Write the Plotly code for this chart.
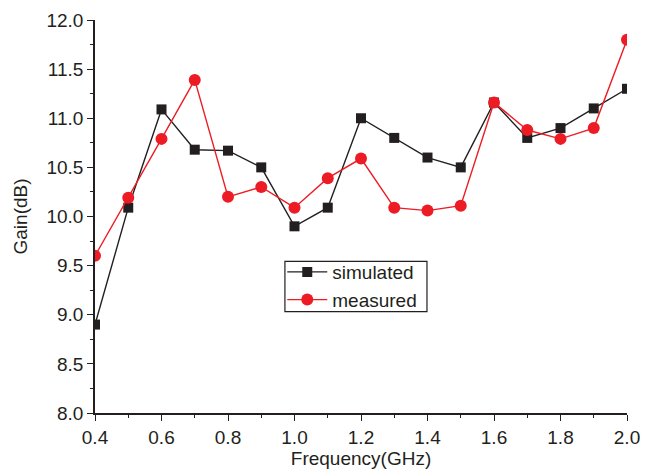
import plotly.graph_objects as go

freq = [0.4, 0.5, 0.6, 0.7, 0.8, 0.9, 1.0, 1.1, 1.2, 1.3, 1.4, 1.5, 1.6, 1.7, 1.8, 1.9, 2.0]
simulated = [8.9, 10.09, 11.09, 10.68, 10.67, 10.5, 9.9, 10.09, 11.0, 10.8, 10.6, 10.5, 11.16, 10.8, 10.9, 11.1, 11.3]
measured = [9.6, 10.19, 10.79, 11.39, 10.2, 10.3, 10.09, 10.39, 10.59, 10.09, 10.06, 10.11, 11.16, 10.88, 10.79, 10.9, 11.8]

fig = go.Figure()
fig.add_trace(go.Scatter(x=freq, y=simulated, mode="lines+markers", name="simulated",
                         line=dict(color="#231f20", width=1.4),
                         marker=dict(symbol="square", size=10, color="#231f20")))
fig.add_trace(go.Scatter(x=freq, y=measured, mode="lines+markers", name="measured",
                         line=dict(color="#ed1c24", width=1.4),
                         marker=dict(symbol="circle", size=12, color="#ed1c24")))

# legend frame (paper coordinates)
fig.add_shape(type="rect", xref="paper", yref="paper", x0=0.357, x1=0.624, y0=0.258, y1=0.386,
              line=dict(color="#231f20", width=1.2), fillcolor="rgba(0,0,0,0)", layer="above")

font = "Liberation Sans, Arial, sans-serif"
fig.update_layout(
    width=651, height=474,
    margin=dict(l=95, r=24, t=20, b=61),
    plot_bgcolor="white", paper_bgcolor="white",
    font=dict(family=font, color="#231f20", size=19),
    showlegend=True,
    legend=dict(x=0.352, y=0.407, xanchor="left", yanchor="top",
                borderwidth=0, bgcolor="rgba(0,0,0,0)",
                font=dict(size=19), tracegroupgap=0, itemwidth=40),
    xaxis=dict(range=[0.4, 2.0], tickvals=[0.4, 0.6, 0.8, 1.0, 1.2, 1.4, 1.6, 1.8, 2.0],
               ticktext=["0.4", "0.6", "0.8", "1.0", "1.2", "1.4", "1.6", "1.8", "2.0"],
               showline=True, linecolor="#231f20", linewidth=1.5,
               ticks="outside", ticklen=6, tickwidth=1.2, tickcolor="#231f20",
               minor=dict(dtick=0.1, ticks="outside", ticklen=3, tickcolor="#231f20", showgrid=False),
               showgrid=False, zeroline=False, tickfont=dict(size=19), automargin=False,
               title=dict(text="Frequency(GHz)", font=dict(size=19), standoff=4)),
    yaxis=dict(range=[8.0, 12.0], tickvals=[8.0, 8.5, 9.0, 9.5, 10.0, 10.5, 11.0, 11.5, 12.0],
               ticktext=["8.0", "8.5", "9.0", "9.5", "10.0", "10.5", "11.0", "11.5", "12.0"],
               showline=True, linecolor="#231f20", linewidth=1.5,
               ticks="outside", ticklen=6, tickwidth=1.2, tickcolor="#231f20",
               minor=dict(dtick=0.25, ticks="outside", ticklen=3, tickcolor="#231f20", showgrid=False),
               showgrid=False, zeroline=False, tickfont=dict(size=19), automargin=False,
               title=dict(text="Gain(dB)", font=dict(size=19), standoff=14)),
)
fig.write_html("out.html")
